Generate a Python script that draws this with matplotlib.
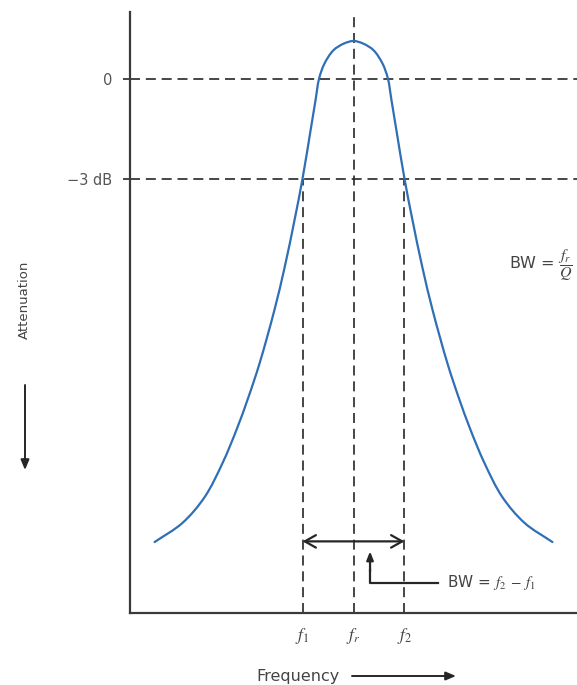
import numpy as np
import matplotlib
matplotlib.use("Agg")
import matplotlib.pyplot as plt
from matplotlib.path import Path
from matplotlib.patches import PathPatch, FancyArrowPatch

plt.rcParams["mathtext.fontset"] = "stix"

# ---- data ----
freq = [0.55, 1.17, 1.67, 2.07, 2.38, 2.65, 2.90, 3.23, 3.46, 3.68, 3.86, 4.04, 4.15, 4.23,
        4.35, 4.55, 4.78, 5.00, 5.22, 5.45, 5.65, 5.77, 5.85, 5.96, 6.14, 6.32, 6.54, 6.77,
        7.10, 7.35, 7.62, 7.93, 8.33, 8.83, 9.45]
level = [-13.91, -13.34, -12.56, -11.54, -10.55, -9.56, -8.54, -6.95, -5.66, -4.25, -3.00,
         -1.55, -0.65, 0.00, 0.45, 0.85, 1.05, 1.13, 1.05, 0.85, 0.45, 0.00, -0.65, -1.55,
         -3.00, -4.25, -5.66, -6.95, -8.54, -9.56, -10.55, -11.54, -12.56, -13.34, -13.91]
f1, fr, f2 = 3.86, 5.0, 6.14
ref_levels = [0, -3]
ytick_labels = ["0", "\u22123 dB"]
xtick_labels = [r"$f_1$", r"$f_r$", r"$f_2$"]

W, H = 577, 685
fig = plt.figure(figsize=(W / 100, H / 100), dpi=100)
ax = fig.add_axes([130 / W, 1 - 613 / H, 447 / W, (613 - 12) / H])
ax.set_xlim(0, 10)
ax.set_ylim(-16.04, 2.0)

dark = "#262626"
txt = "#444444"
for s in ["top", "right"]:
    ax.spines[s].set_visible(False)
for s in ["left", "bottom"]:
    ax.spines[s].set_color("#3a3a3a")
    ax.spines[s].set_linewidth(1.6)

# smooth curve through the read points: centripetal Catmull-Rom rendered as cubic Beziers
sx, sy = 44.7, 33.33  # approx. pixels per data unit, so the spline is built in screen-like space
P = np.column_stack([np.array(freq) * sx, np.array(level) * sy])
n = len(P)
verts = [tuple(P[0])]
codes = [Path.MOVETO]
for i in range(n - 1):
    p1, p2 = P[i], P[i + 1]
    p0 = P[i - 1] if i > 0 else 2 * p1 - p2
    p3 = P[i + 2] if i + 2 < n else 2 * p2 - p1
    d0 = np.linalg.norm(p1 - p0) ** 0.5
    d1 = np.linalg.norm(p2 - p1) ** 0.5
    d2 = np.linalg.norm(p3 - p2) ** 0.5
    m1 = ((p1 - p0) / d0 - (p2 - p0) / (d0 + d1) + (p2 - p1) / d1) * d1
    m2 = ((p2 - p1) / d1 - (p3 - p1) / (d1 + d2) + (p3 - p2) / d2) * d1
    c1 = p1 + m1 / 3.0
    c2 = p2 - m2 / 3.0
    verts += [tuple(c1), tuple(c2), tuple(p2)]
    codes += [Path.CURVE4] * 3
verts = [(vx / sx, vy / sy) for vx, vy in verts]
ax.add_patch(PathPatch(Path(verts, codes), facecolor="none", edgecolor="#2f6fb5", lw=1.6,
                       capstyle="round", zorder=3))

dash = (0, (6, 3.5))
for lv in ref_levels:
    ax.axhline(lv, color=dark, lw=1.2, linestyle=dash, zorder=2)
ax.axvline(fr, color=dark, lw=1.2, linestyle=dash, zorder=2)
for fx in (f1, f2):
    ax.plot([fx, fx], [ax.get_ylim()[0], -3], color=dark, lw=1.2, linestyle=dash, zorder=2)

ax.set_yticks(ref_levels)
ax.set_yticklabels(ytick_labels, fontsize=10.5, color="#555555")
ax.tick_params(axis="y", length=5, width=1.2, color=dark, pad=8)
ax.set_xticks([f1, fr, f2])
ax.set_xticklabels(xtick_labels, fontsize=12.5, color=txt)
ax.tick_params(axis="x", length=0, pad=9)

# double-headed bandwidth arrow
ax.annotate("", xy=(f1, -13.89), xytext=(f2, -13.89),
            arrowprops=dict(arrowstyle="<->,head_length=0.8,head_width=0.45", color=dark, lw=1.6,
                            shrinkA=0, shrinkB=0))
# pointer arrow
ax.plot([6.89, 5.37, 5.37], [-15.13, -15.13, -14.75], color=dark, lw=1.6)
ax.annotate("", xy=(5.37, -14.19), xytext=(5.37, -14.8),
            arrowprops=dict(arrowstyle="-|>,head_length=0.5,head_width=0.2", color=dark, lw=1.6,
                            shrinkA=0, shrinkB=0))
ax.text(7.09, -15.13, r"BW = $f_2$ $-$ $f_1$", fontsize=11, color=txt, va="center", ha="left")
ax.text(9.9, -5.6, r"BW = $\dfrac{f_r}{Q}$", fontsize=11.5, color=txt, va="center", ha="right")

# axis titles with arrows (figure pixel coordinates)
def fx_(px):
    return px / W
def fy_(py):
    return 1 - py / H

fig.text(fx_(298), fy_(677), "Frequency", fontsize=11.5, color=txt, ha="center", va="center")
fig.add_artist(FancyArrowPatch((fx_(352), fy_(676)), (fx_(456), fy_(676)), transform=fig.transFigure,
                               arrowstyle="-|>,head_length=6,head_width=2.5", color=dark, lw=1.4,
                               shrinkA=0, shrinkB=0))
fig.text(fx_(24), fy_(300), "Attenuation", fontsize=9.5, color=txt, rotation=90,
         ha="center", va="center")
fig.add_artist(FancyArrowPatch((fx_(25), fy_(385)), (fx_(25), fy_(470)), transform=fig.transFigure,
                               arrowstyle="-|>,head_length=6,head_width=2.5", color=dark, lw=1.4,
                               shrinkA=0, shrinkB=0))

fig.savefig("out.png", dpi=100)
